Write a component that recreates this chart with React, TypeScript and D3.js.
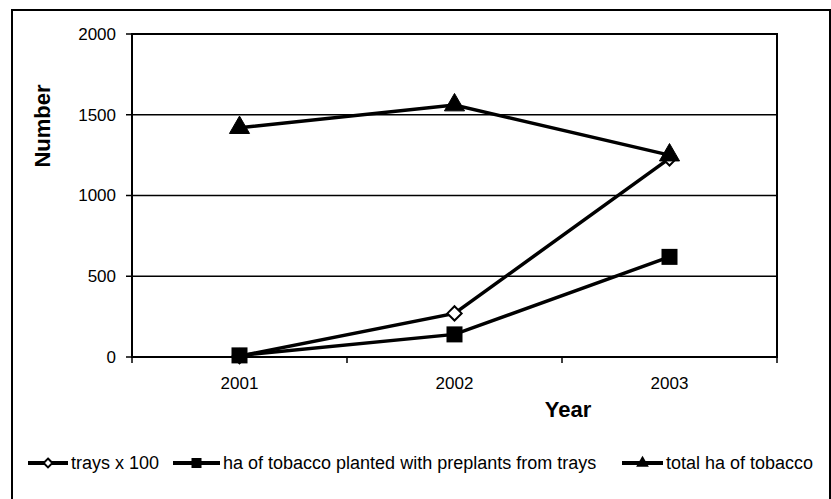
import React from "react";
import * as d3 from "d3";

// Tobacco float-tray adoption by year
const years = ["2001", "2002", "2003"];
const traysX100 = [5, 270, 1230];
const haFromTrays = [10, 140, 620];
const totalHa = [1420, 1560, 1250];
const yTicks = [0, 500, 1000, 1500, 2000];

const seriesNames = [
  "trays x 100",
  "ha of tobacco planted with preplants from trays",
  "total ha of tobacco",
];

const W = 831;
const H = 499;
const plot = { left: 132, right: 777, top: 34, bottom: 357 };
const FONT = "'Liberation Sans', Arial, Helvetica, sans-serif";

type Shape = "diamond" | "square" | "triangle";

function Marker({ x, y, shape }: { x: number; y: number; shape: Shape }) {
  if (shape === "diamond") {
    const s = d3.symbol().type(d3.symbolDiamond2).size(130)();
    return (
      <path d={s || ""} transform={`translate(${x},${y})`} fill="#fff" stroke="#000" strokeWidth={2} />
    );
  }
  if (shape === "square") {
    return <rect x={x - 8} y={y - 8} width={16} height={16} fill="#000" />;
  }
  const t = d3.symbol().type(d3.symbolTriangle).size(175)();
  return <path d={t || ""} transform={`translate(${x},${y})`} fill="#000" stroke="#000" strokeWidth={1} />;
}

export default function App() {
  const x = d3.scaleBand<string>().domain(years).range([plot.left, plot.right]);
  const cx = (d: string) => (x(d) as number) + x.bandwidth() / 2;
  const y = d3.scaleLinear().domain([0, 2000]).range([plot.bottom, plot.top]);

  const series: { values: number[]; shape: Shape }[] = [
    { values: traysX100, shape: "diamond" },
    { values: haFromTrays, shape: "square" },
    { values: totalHa, shape: "triangle" },
  ];

  const line = d3
    .line<number>()
    .x((_, i) => cx(years[i]))
    .y((v) => y(v));

  const boundaries = [plot.left, ...years.map((d) => (x(d) as number) + x.bandwidth())];

  // legend layout: [line start, line end, text start]
  const legendPos = [
    [28, 68, 71],
    [173, 220, 223],
    [622, 663, 666],
  ];
  const legendY = 463;

  return (
    <svg
      width={W}
      height={H}
      style={{ position: "absolute", left: 0, top: 0, background: "#fff" }}
      fontFamily={FONT}
    >
      <rect x={0} y={0} width={W} height={H} fill="#fff" />
      {/* outer chart frame */}
      <rect x={12} y={10} width={818} height={492} fill="none" stroke="#000" strokeWidth={2} />

      {/* horizontal gridlines */}
      {yTicks.map((t) => (
        <line key={t} x1={plot.left} x2={plot.right} y1={y(t)} y2={y(t)} stroke="#000" strokeWidth={1.5} />
      ))}
      {/* plot frame */}
      <rect
        x={plot.left}
        y={plot.top}
        width={plot.right - plot.left}
        height={plot.bottom - plot.top}
        fill="none"
        stroke="#000"
        strokeWidth={2}
      />
      {/* y axis ticks and labels */}
      {yTicks.map((t) => (
        <g key={t}>
          <line x1={plot.left - 6} x2={plot.left} y1={y(t)} y2={y(t)} stroke="#000" strokeWidth={1.5} />
          <text x={plot.left - 16} y={y(t)} dy="0.35em" textAnchor="end" fontSize={17}>
            {t}
          </text>
        </g>
      ))}
      {/* x axis ticks and labels */}
      {boundaries.map((b, i) => (
        <line key={i} x1={b} x2={b} y1={plot.bottom} y2={plot.bottom + 6} stroke="#000" strokeWidth={1.5} />
      ))}
      {years.map((d) => (
        <text key={d} x={cx(d)} y={389} textAnchor="middle" fontSize={17}>
          {d}
        </text>
      ))}

      {/* axis titles */}
      <text x={568} y={417} textAnchor="middle" fontSize={22} fontWeight="bold">
        Year
      </text>
      <text
        transform="translate(50,126) rotate(-90)"
        textAnchor="middle"
        fontSize={22}
        fontWeight="bold"
      >
        Number
      </text>

      {/* series lines */}
      {series.map((s, si) => (
        <path key={si} d={line(s.values) || ""} fill="none" stroke="#000" strokeWidth={3.5} />
      ))}
      {/* markers, drawn in series order */}
      {series.map((s, si) =>
        s.values.map((v, i) => <Marker key={`${si}-${i}`} x={cx(years[i])} y={y(v)} shape={s.shape} />)
      )}

      {/* legend */}
      {series.map((s, si) => {
        const [x1, x2, tx] = legendPos[si];
        const mx = (x1 + x2) / 2;
        return (
          <g key={si}>
            <line x1={x1} x2={x2} y1={legendY} y2={legendY} stroke="#000" strokeWidth={4} />
            {s.shape === "diamond" ? (
              <path
                d={d3.symbol().type(d3.symbolDiamond2).size(50)() || ""}
                transform={`translate(${mx},${legendY})`}
                fill="#fff"
                stroke="#000"
                strokeWidth={2}
              />
            ) : s.shape === "square" ? (
              <rect x={mx - 5} y={legendY - 5} width={10} height={10} fill="#000" />
            ) : (
              <path
                d={d3.symbol().type(d3.symbolTriangle).size(70)() || ""}
                transform={`translate(${mx},${legendY})`}
                fill="#000"
              />
            )}
            <text x={tx} y={legendY} dy="0.35em" fontSize={18}>
              {seriesNames[si]}
            </text>
          </g>
        );
      })}
    </svg>
  );
}
